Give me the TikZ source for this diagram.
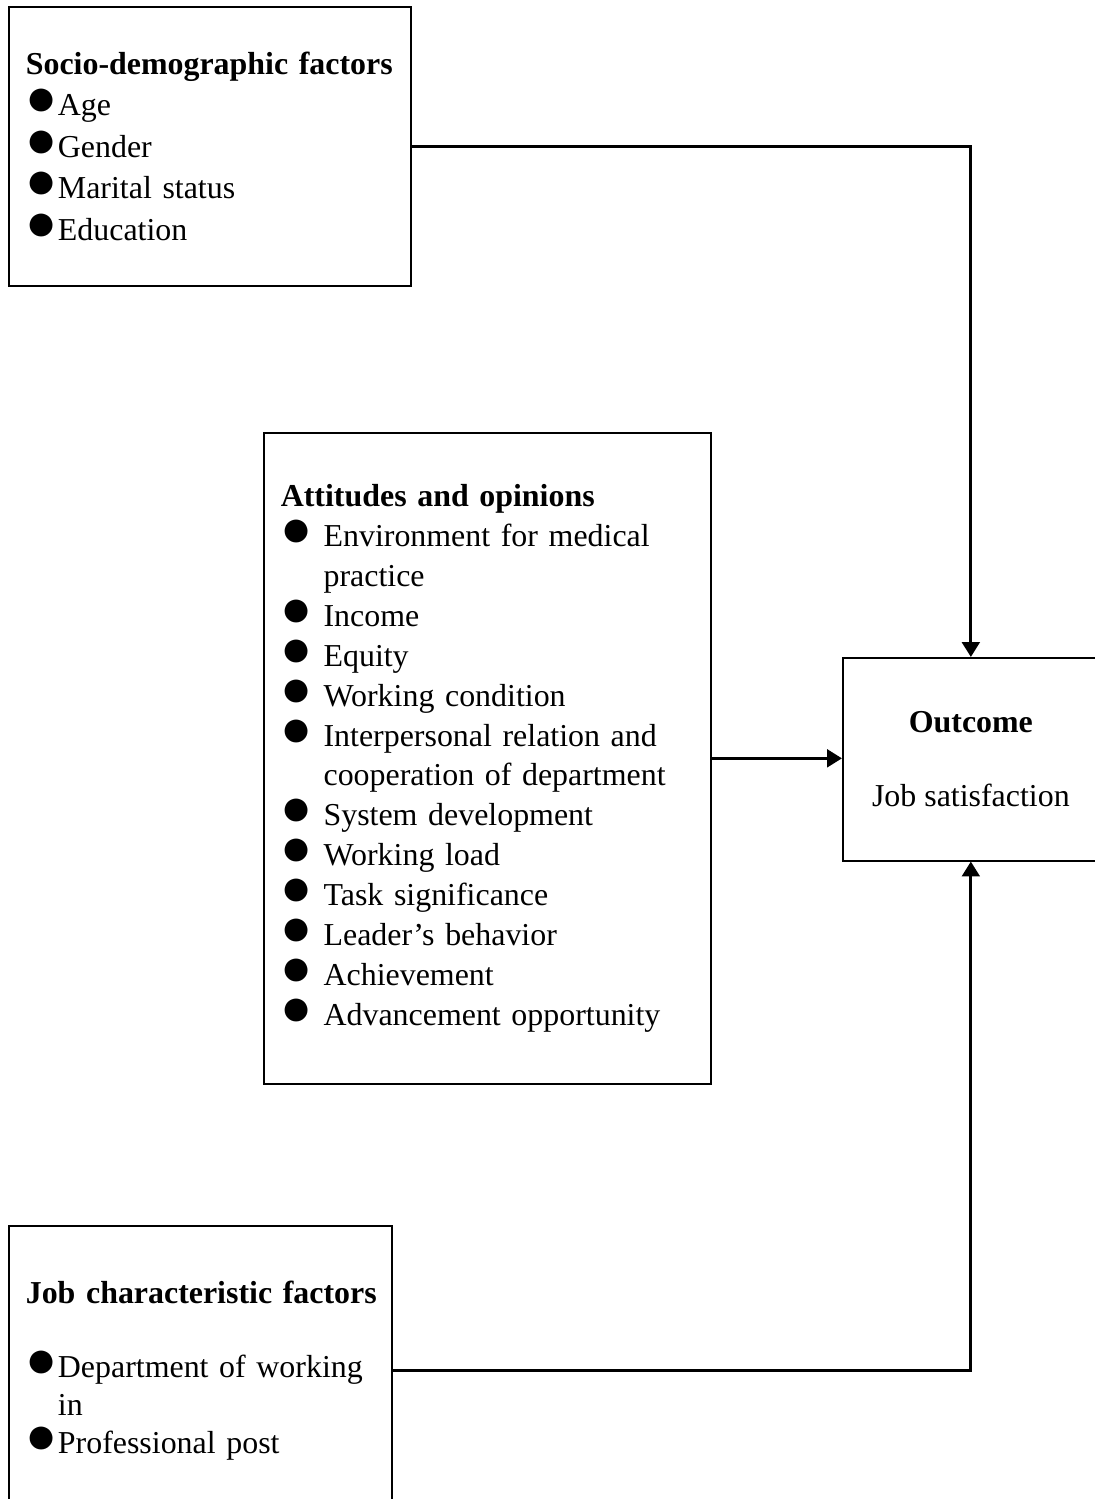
\documentclass[tikz,border=0pt]{standalone}
\usepackage{fontspec}
\setmainfont{Liberation Serif}
\usetikzlibrary{arrows.meta,positioning}
\setlength{\parindent}{0pt}
\newcommand{\blt}{{\fontsize{20}{12}\selectfont ●}}
\newcommand{\itm}[2][]{\par\setbox0\hbox{\blt#1}\hangindent=\wd0\hangafter=1\noindent\box0 #2}

\begin{document}
\begin{tikzpicture}[x=0.376pt,y=-0.376pt,box/.style={draw,line width=0.6pt,anchor=north west,align=left,inner xsep=6.4pt,inner ysep=0pt,font=\fontsize{12}{15.2}\selectfont},arr/.style={-{Triangle[length=5.6pt,width=6.6pt]},line width=1.2pt}]
\useasboundingbox (0,0) rectangle (1095,1499);
\node[box,text width=138.4pt,minimum height=104.9pt,font=\fontsize{12}{15.6}\selectfont](socio) at (8,6){\mbox{\textbf{Socio-demographic factors}}\itm{Age}\itm{Gender}\itm{Marital status}\itm{Education}};
\node[box,text width=155.3pt,minimum height=244.8pt,font=\fontsize{12}{15}\selectfont](attitudes) at (263,432){\mbox{\textbf{Attitudes and opinions}}\itm[\ ]{Environment for medical\newline practice}\itm[\ ]{Income}\itm[\ ]{Equity}\itm[\ ]{Working condition}\itm[\ ]{Interpersonal relation and\newline cooperation of department}\itm[\ ]{System development}\itm[\ ]{Working load}\itm[\ ]{Task significance}\itm[\ ]{Leader’s behavior}\itm[\ ]{Achievement}\itm[\ ]{Advancement opportunity}};
\node[box,align=center,minimum width=96.3pt,minimum height=76.3pt](outcome) at (842,657){\textbf{Outcome}\\[12.8pt]Job satisfaction};
\node[box,text width=131.2pt,minimum height=109pt,font=\fontsize{12}{14.4}\selectfont](job) at (8,1225){\mbox{\textbf{Job characteristic factors}}\par\vspace{13.5pt}\itm{Department of working\newline in}\itm{Professional post}};
\draw[arr](socio.east)-|(outcome.north);\draw[arr](attitudes.east)--(attitudes.east-|outcome.west);\draw[arr](job.east)-|(outcome.south);
\end{tikzpicture}
\end{document}
